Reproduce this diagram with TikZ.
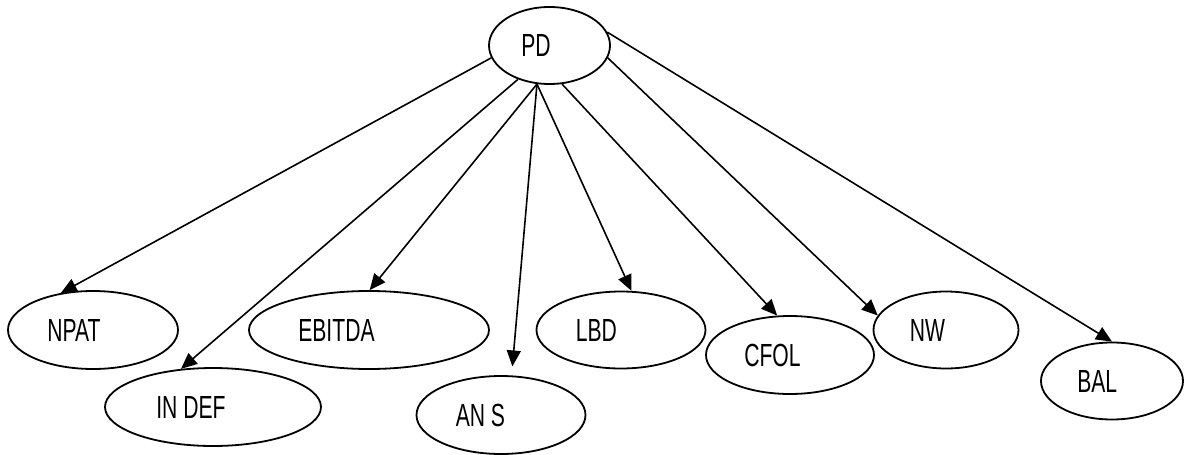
\documentclass[tikz,border=0pt]{standalone}
\usepackage{fontspec}
\setmainfont{Liberation Sans}[FakeStretch=0.66]
\usetikzlibrary{arrows.meta,calc,shapes.geometric}
\begin{document}
\begin{tikzpicture}[x=1pt,y=-1pt,
  ell/.style={draw, line width=1.8pt, ellipse, inner sep=0pt},
  lab/.style={anchor=west, inner sep=0pt, font=\fontsize{32}{32}\selectfont},
  arr/.style={line width=1.6pt, -{Triangle[length=16pt,width=14pt]}}]
\useasboundingbox (0,0) rectangle (1184,455);
% ellipses
\node[ell, minimum width=121pt, minimum height=77pt] (pd) at (549.5,45.5) {};
\node[ell, minimum width=170pt, minimum height=78pt] (npat) at (93,330) {};
\node[ell, minimum width=216pt, minimum height=78pt] (indef) at (213,407) {};
\node[ell, minimum width=240pt, minimum height=78pt] (ebitda) at (369,330) {};
\node[ell, minimum width=169pt, minimum height=78pt] (ans) at (501,415) {};
\node[ell, minimum width=169pt, minimum height=77pt] (lbd) at (621,330) {};
\node[ell, minimum width=168pt, minimum height=78pt] (cfol) at (790,355) {};
\node[ell, minimum width=145pt, minimum height=77pt] (nw) at (946,330) {};
\node[ell, minimum width=142pt, minimum height=77pt] (bal) at (1112,381) {};
% labels
\node[lab] (pdt) at ($(pd.west)+(33,0)$) {PD};
\node[lab] (npatt) at ($(npat.west)+(40,0)$) {NPAT};
\node[lab] (indeft) at ($(indef.west)+(52,0)$) {IN DEF};
\node[lab] (ebitdat) at ($(ebitda.west)+(50,0)$) {EBITDA};
\node[lab] (anst) at ($(ans.west)+(40,0)$) {AN S};
\node[lab] (lbdt) at ($(lbd.west)+(40,0)$) {LBD};
\node[lab] (cfolt) at ($(cfol.west)+(39,0)$) {CFOL};
\node[lab] (nwt) at ($(nw.west)+(37,0)$) {NW};
\node[lab] (balt) at ($(bal.west)+(37,0)$) {BAL};
% connectors
\draw[arr] (pd.192) -- (npat.131);
\draw[arr] (pd.227) -- (indef.130);
\draw[arr] (pd.252) -- (ebitda.89);
\draw[arr, shorten >=9pt] (pd.252) -- (ans.75);
\draw[arr] (pd.252) -- (lbd.75);
\draw[arr] (pd.288) -- (cfol.108);
\draw[arr] (pd.348) -- (nw.168);
\draw[arr] (pd.13) -- (bal.90);
\end{tikzpicture}
\end{document}
